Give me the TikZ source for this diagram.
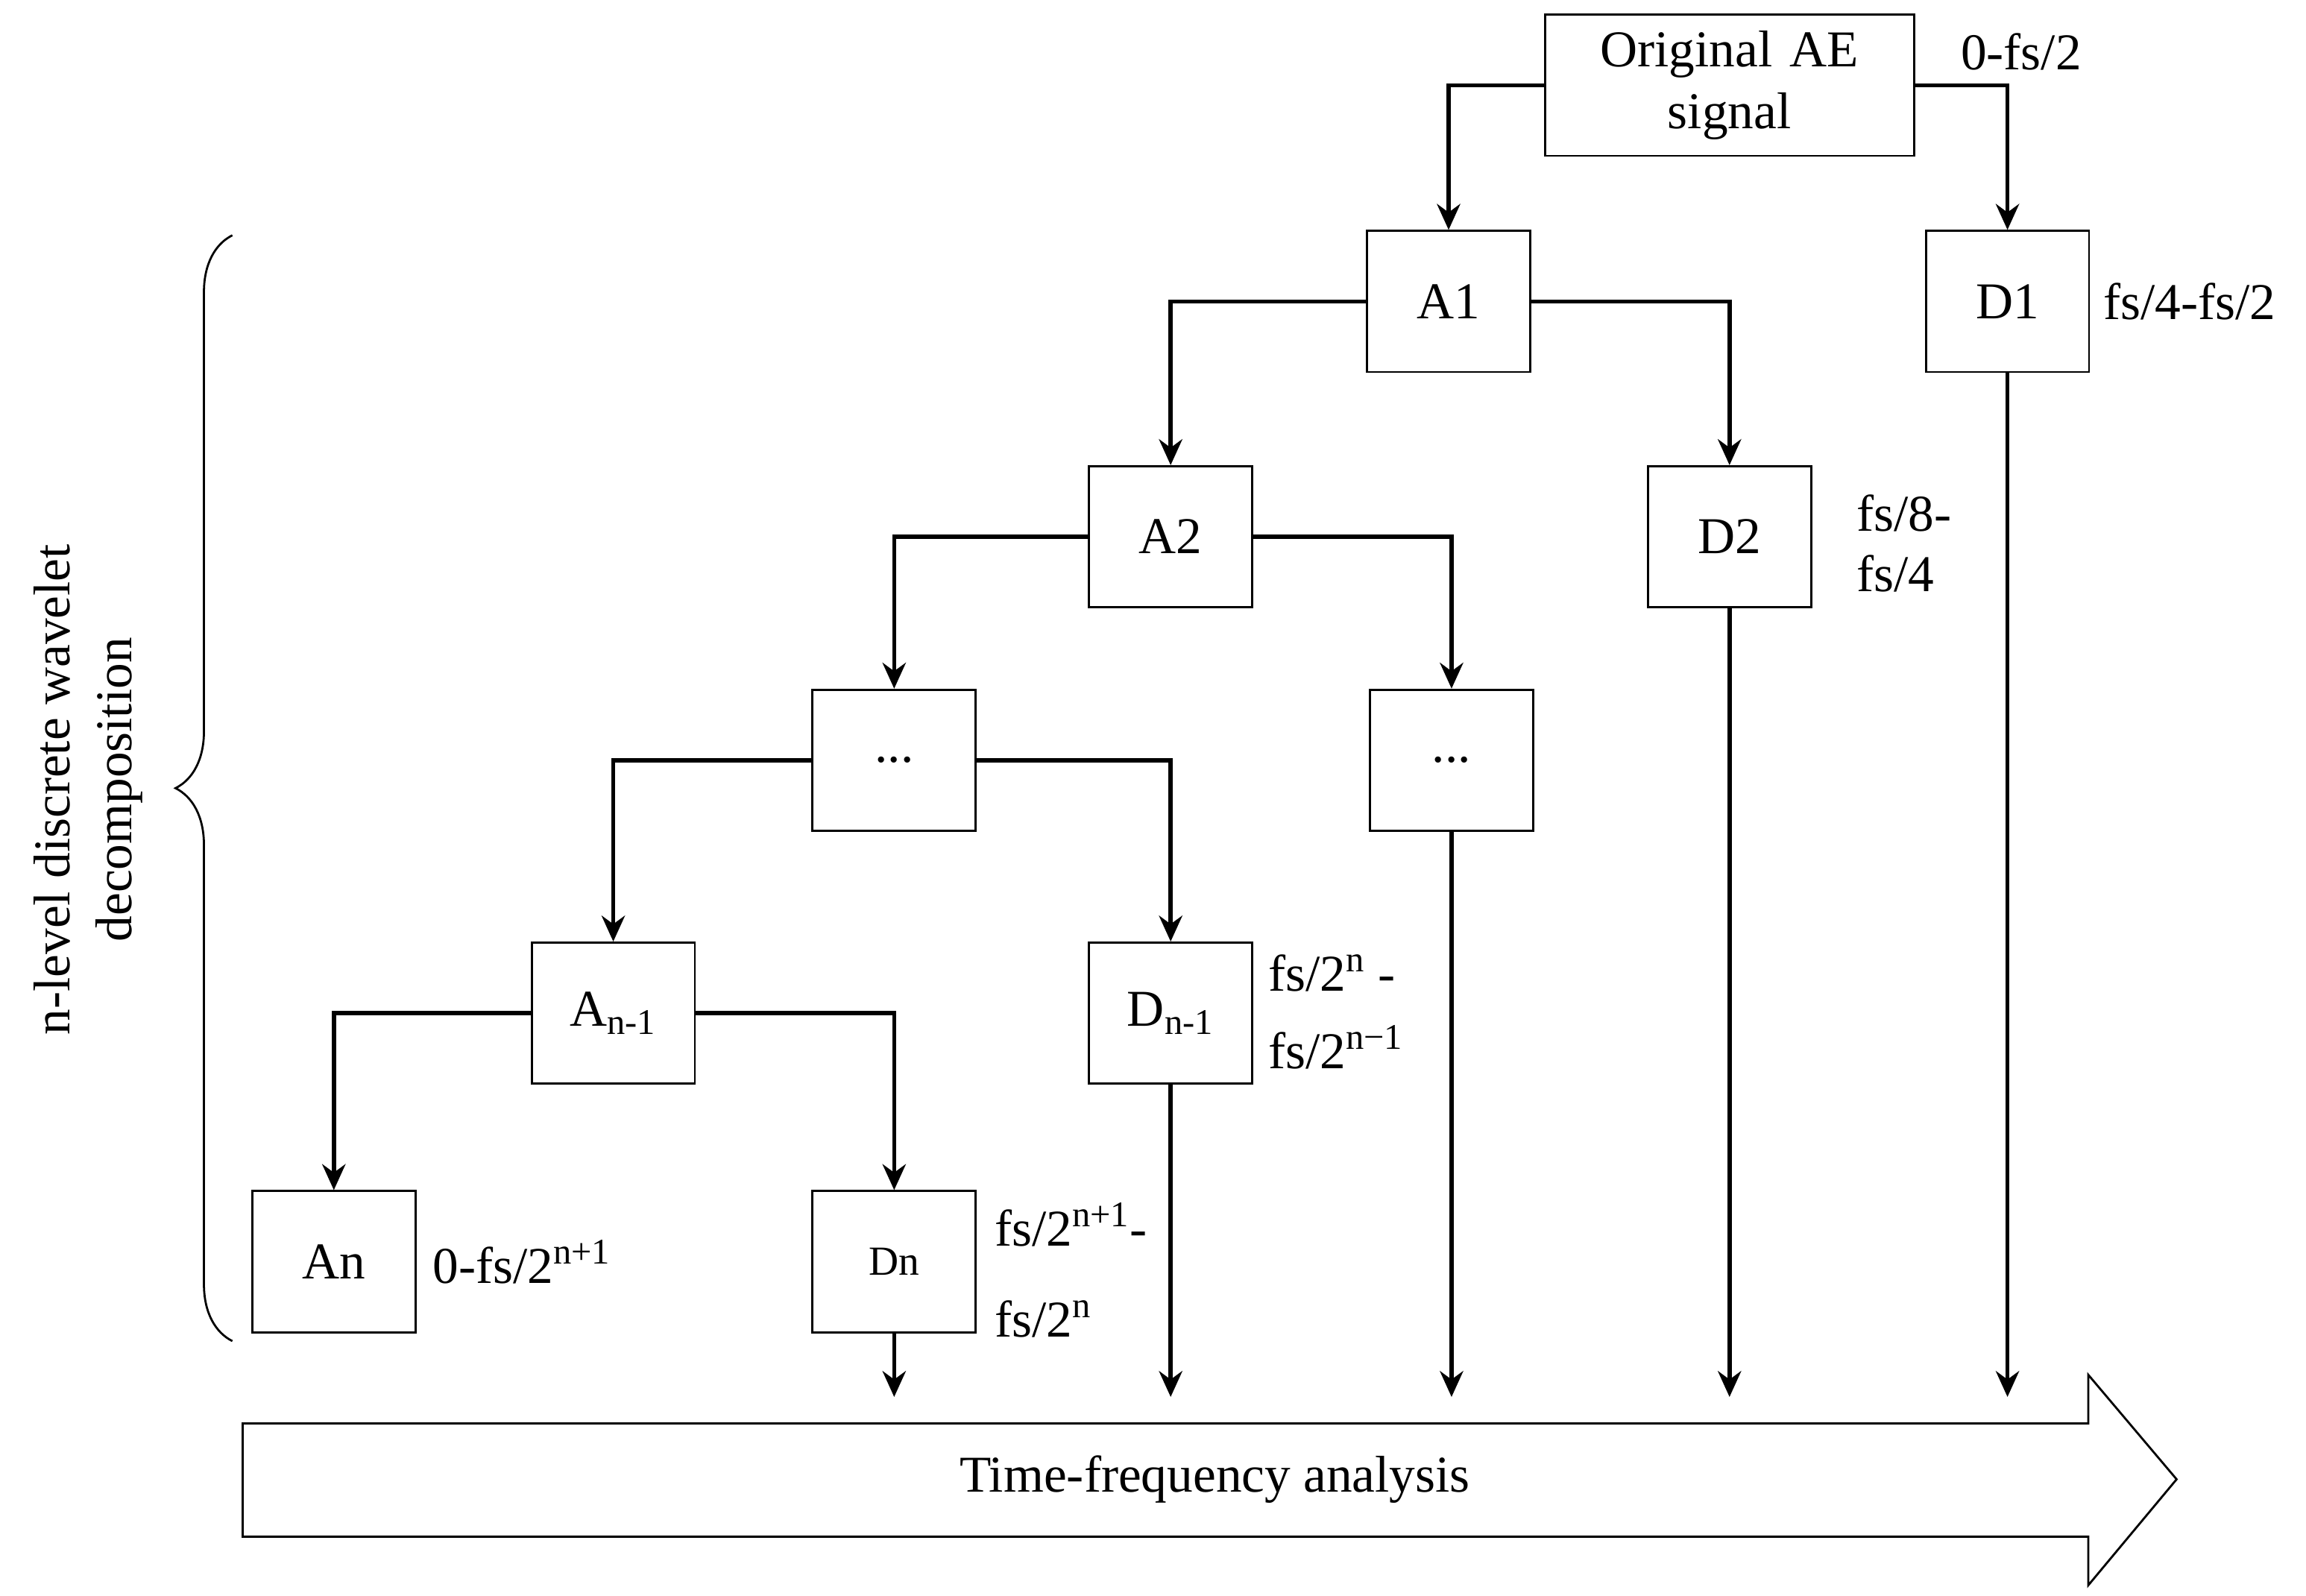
\documentclass[tikz,border=0pt]{standalone}
\usepackage{fontspec}
\setmainfont{Liberation Serif}
\usetikzlibrary{decorations.pathreplacing,arrows.meta}
\begin{document}
\begin{tikzpicture}[x=0.02cm,y=-0.02cm,
 box/.style={draw,line width=0.8pt,minimum width=2.22cm,minimum height=1.92cm,font=\fontsize{20}{24}\selectfont,inner sep=0pt},
 lab/.style={font=\fontsize{20}{24}\selectfont,inner sep=0pt},
 con/.style={line width=1.6pt,-{Stealth[length=10pt,width=9pt]}}]
\useasboundingbox (0,0) rectangle (1568,1085);
\node[box,minimum width=5.02cm,align=center,text width=4.6cm] (o) at (1176,58) {Original AE\\signal};
\node[box] (a1) at (985,205) {A1};
\node[box] (d1) at (1365,205) {D1};
\node[box] (a2) at (796,365) {A2};
\node[box] (d2) at (1176,365) {D2};
\node[box] (l3) at (608,517) {...};
\node[box] (r3) at (987,517) {...};
\node[box] (an1) at (417,689) {A\textsubscript{n-1}};
\node[box] (dn1) at (796,689) {D\textsubscript{n-1}};
\node[box] (an) at (227,858) {An};
\node[box,font=\fontsize{16}{20}\selectfont] (dn) at (608,858) {Dn};
\draw[con] (o.west) -| (a1.north);
\draw[con] (o.east) -| (d1.north);
\draw[con] (a1.west) -| (a2.north);
\draw[con] (a1.east) -| (d2.north);
\draw[con] (a2.west) -| (l3.north);
\draw[con] (a2.east) -| (r3.north);
\draw[con] (l3.west) -| (an1.north);
\draw[con] (l3.east) -| (dn1.north);
\draw[con] (an1.west) -| (an.north);
\draw[con] (an1.east) -| (dn.north);
\coordinate (e1) at (608,950); \coordinate (e2) at (796,950);
\coordinate (e3) at (987,950); \coordinate (e4) at (1176,950);
\coordinate (e5) at (1365,950);
\draw[con] (dn.south) -- (e1);
\draw[con] (dn1.south) -- (e2);
\draw[con] (r3.south) -- (e3);
\draw[con] (d2.south) -- (e4);
\draw[con] (d1.south) -- (e5);
\draw[line width=0.8pt] (165,968) -- (1420,968) -- (1420,935) -- (1480,1006) -- (1420,1078) -- (1420,1045) -- (165,1045) -- cycle;
\node[lab] (tf) at (826,1006) {Time-frequency analysis};
\draw[line width=0.8pt,decorate,decoration={brace,amplitude=22pt}] (158,912) -- (158,160);
\node[lab,rotate=90,align=center] (nl) at (60,537) {n-level discrete wavelet\\decomposition};
\node[lab,anchor=west] (t1) at (1333,35) {0-fs/2};
\node[lab,anchor=west] (t2) at (1430,205) {fs/4-fs/2};
\node[lab,anchor=west] (t3) at (1262,349) {fs/8-};
\node[lab,anchor=west] (t4) at (1262,390) {fs/4};
\node[lab,anchor=west] (t5) at (862,662) {fs/2\textsuperscript{n} -};
\node[lab,anchor=west] (t6) at (862,712) {fs/2\textsuperscript{n−1}};
\node[lab,anchor=west] (t7) at (294,858) {0-fs/2\textsuperscript{n+1}};
\node[lab,anchor=west] (t8) at (676,833) {fs/2\textsuperscript{n+1}-};
\node[lab,anchor=west] (t9) at (676,897) {fs/2\textsuperscript{n}};
\end{tikzpicture}
\end{document}
